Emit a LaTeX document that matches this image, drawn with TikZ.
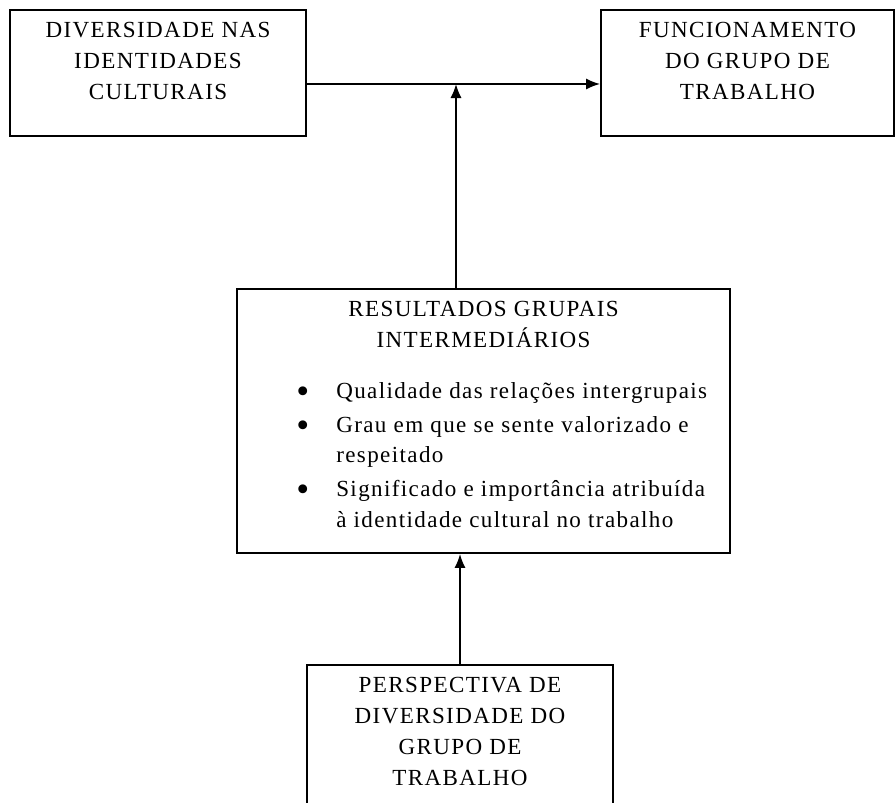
\documentclass[tikz,border=0pt]{standalone}
\usepackage{fontspec}
\setmainfont{Liberation Serif}[LetterSpace=6.0]
\usetikzlibrary{arrows.meta}

\begin{document}
\begin{tikzpicture}[
        caixa/.style={draw, line width=1.3pt, inner sep=0pt},
        texto/.style={align=center, inner sep=0pt, font=\fontsize{16.4}{22}\selectfont},
        seta/.style={-{Latex[length=10pt,width=8pt]}, line width=1.3pt}]
        \useasboundingbox (0,0) rectangle (22.4,-20.075);

        \node[caixa, minimum width=7.4cm, minimum height=3.15cm] (diversidade) at (3.95,-1.825) {};
        \node[caixa, minimum width=7.325cm, minimum height=3.15cm] (funcionamento) at (18.6875,-1.825) {};
        \node[caixa, minimum width=12.325cm, minimum height=6.6cm] (resultados) at (12.0875,-10.525) {};
        \node[caixa, anchor=north, minimum width=7.65cm, minimum height=4.5cm] (perspectiva) at (11.5,-16.6) {};

        \node[texto, anchor=north] (t-diversidade) at ([yshift=-0.32cm]diversidade.north) {DIVERSIDADE NAS\\IDENTIDADES\\CULTURAIS};
        \node[texto, anchor=north] (t-funcionamento) at ([yshift=-0.32cm]funcionamento.north) {FUNCIONAMENTO\\DO GRUPO DE\\TRABALHO};
        \node[texto, anchor=north] (t-resultados) at ([yshift=-0.33cm]resultados.north) {RESULTADOS GRUPAIS\\INTERMEDIÁRIOS};
        \node[texto, anchor=north] (t-perspectiva) at ([yshift=-0.32cm]perspectiva.north) {PERSPECTIVA DE\\DIVERSIDADE DO\\GRUPO DE\\TRABALHO};

        \node[texto, align=left, anchor=north west, font=\fontsize{16.4}{21.4}\selectfont] (lista) at (7.4,-9.55) {%
            \makebox[1cm][l]{\raisebox{-3.5pt}{\scalebox{1.6}{\textbullet}}}Qualidade das relações intergrupais\\[3pt]
            \makebox[1cm][l]{\raisebox{-3.5pt}{\scalebox{1.6}{\textbullet}}}Grau em que se sente valorizado e\\
            \hspace*{1cm}respeitado\\[3pt]
            \makebox[1cm][l]{\raisebox{-3.5pt}{\scalebox{1.6}{\textbullet}}}Significado e importância atribuída\\
            \hspace*{1cm}à identidade cultural no trabalho};

        \coordinate (juncao) at (11.4,-2.1);

        \draw[seta] ([yshift=-0.275cm]diversidade.east) -- ([yshift=-0.275cm]funcionamento.west);
        \draw[seta] (resultados.north -| juncao) -- (juncao);
        \draw[seta] (perspectiva.north) -- (perspectiva.north |- resultados.south);

    \end{tikzpicture}
\end{document}
